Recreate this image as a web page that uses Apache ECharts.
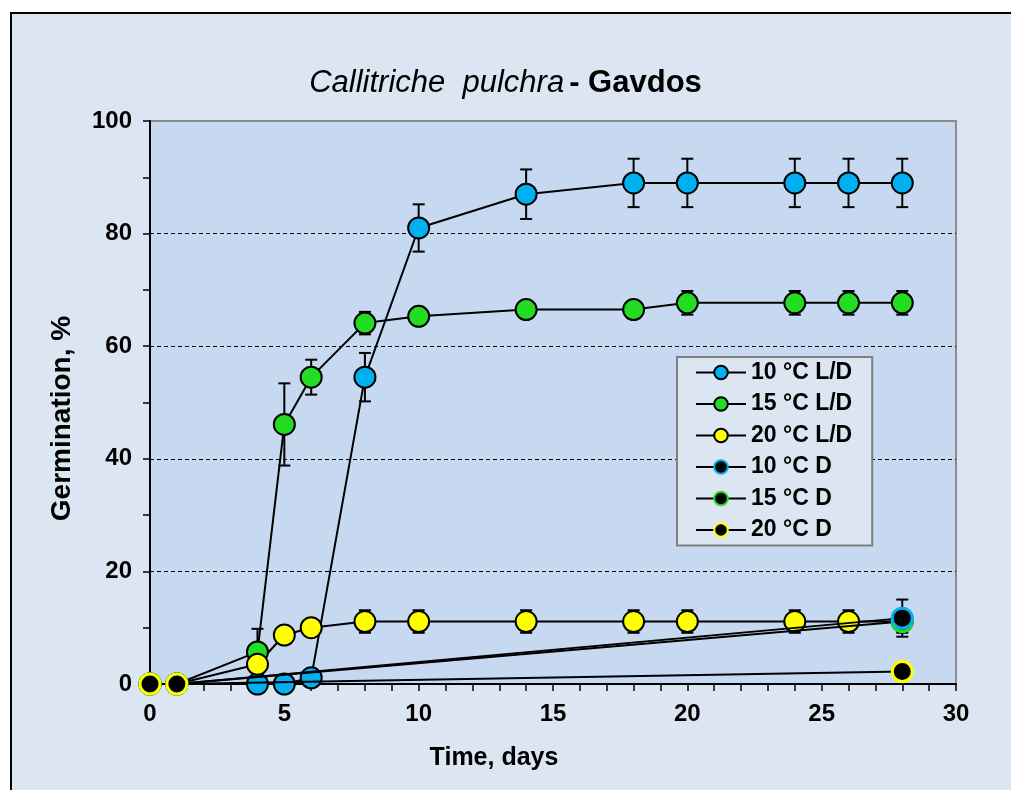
<!DOCTYPE html>
<html>
<head>
<meta charset="utf-8">
<script src="https://cdn.jsdelivr.net/npm/echarts@6/dist/echarts.min.js"></script>
<style>
  html, body { margin: 0; padding: 0; background: #ffffff; width: 1011px; height: 790px; overflow: hidden; }
  #frame { position: absolute; left: 10px; top: 12px; width: 1020px; height: 800px; border: 2px solid #000; background: #dce6f2; }
  #chart { position: absolute; left: 0; top: 0; width: 1011px; height: 790px; }
</style>
</head>
<body>
<div id="frame"></div>
<div id="chart"></div>
<script>
// ---- data ----
const days = [0, 1, 4, 5, 6, 8, 10, 14, 18, 20, 24, 26, 28];
const ld10 = [0, 0, 0, 0, 1.1, 54.5, 81, 87, 89, 89, 89, 89, 89];
const ld10Err = [0, 0, 0, 0, 0, 4.3, 4.2, 4.4, 4.3, 4.3, 4.3, 4.3, 4.3];
const ld15 = [0, 0, 5.7, 46.1, 54.5, 64.1, 65.3, 66.5, 66.5, 67.7, 67.7, 67.7, 67.7];
const ld15Err = [0, 0, 4.1, 7.3, 3.1, 2.0, 1.5, 1.5, 1.5, 2.1, 2.1, 2.1, 2.1];
const ld20 = [0, 0, 3.5, 8.7, 10, 11.1, 11.1, 11.1, 11.1, 11.1, 11.1, 11.1, 11.1];
const ld20Err = [0, 0, 0, 0, 0, 2, 2, 2, 2, 2, 2, 2, 2];
const dDays = [0, 1, 28];
const d10 = [0, 0, 11.7];
const d10Err = [0, 0, 3.3];
const d15 = [0, 0, 11.1];
const d20 = [0, 0, 2.2];
const seriesNames = ['10 °C L/D', '15 °C L/D', '20 °C L/D', '10 °C D', '15 °C D', '20 °C D'];
const xTicks = { min: 0, max: 30, step: 5 };
const yTicks = { min: 0, max: 100, step: 20 };

const BLUE = '#00b0f0', GREEN = '#22dd22', YELLOW = '#ffff00';
const FONT = 'Liberation Sans, Arial, sans-serif';

function pairs(xs, ys) { return xs.map((x, i) => [x, ys[i]]); }
function errData(xs, ys, es) {
  const out = [];
  xs.forEach((x, i) => { if (es[i] > 0) out.push([x, ys[i], es[i]]); });
  return out;
}
function errSeries(data) {
  return {
    type: 'custom', z: 1, silent: true, data: data,
    renderItem: function (params, api) {
      const x = api.value(0), y = api.value(1), e = api.value(2);
      const top = api.coord([x, y + e]);
      const bot = api.coord([x, y - e]);
      const cap = 6;
      const st = { stroke: '#000', lineWidth: 2 };
      return {
        type: 'group',
        children: [
          { type: 'line', shape: { x1: top[0], y1: top[1], x2: bot[0], y2: bot[1] }, style: st },
          { type: 'line', shape: { x1: top[0] - cap, y1: top[1], x2: top[0] + cap, y2: top[1] }, style: st },
          { type: 'line', shape: { x1: bot[0] - cap, y1: bot[1], x2: bot[0] + cap, y2: bot[1] }, style: st }
        ]
      };
    }
  };
}
function lineSeries(name, data, fill, border, bw, z) {
  return {
    name: name, type: 'line', data: data, z: z,
    symbol: 'circle', symbolSize: bw > 2 ? 20 : 21,
    lineStyle: { color: '#000', width: 2 },
    itemStyle: { color: fill, borderColor: border, borderWidth: bw },
    emphasis: { disabled: true }
  };
}

const chart = echarts.init(document.getElementById('chart'), null, { renderer: 'canvas' });
chart.setOption({
  animation: false,
  backgroundColor: 'transparent',
  title: {
    text: '{i|Callitriche  pulchra} {b|- Gavdos}',
    left: 'center', top: 63,
    textStyle: {
      rich: {
        i: { fontFamily: FONT, fontStyle: 'italic', fontWeight: 'normal', fontSize: 31, color: '#000' },
        b: { fontFamily: FONT, fontWeight: 'bold', fontSize: 31, color: '#000' }
      }
    }
  },
  grid: {
    left: 150, right: 55, top: 121, bottom: 106,
    show: true, backgroundColor: '#c6d9f1', borderColor: '#8c8c8c', borderWidth: 2
  },
  legend: {
    orient: 'vertical', left: 677, top: 357,
    data: seriesNames,
    backgroundColor: '#dce6f2', borderColor: '#7f7f7f', borderWidth: 2,
    padding: [4, 20, 4, 18], itemGap: 8.5, itemWidth: 50, itemHeight: 17,
    textStyle: { fontFamily: FONT, fontWeight: 'bold', fontSize: 23, color: '#000' }
  },
  xAxis: {
    type: 'value', min: xTicks.min, max: xTicks.max, interval: xTicks.step,
    name: 'Time, days', nameLocation: 'middle', nameGap: 62,
    nameTextStyle: { fontFamily: FONT, fontWeight: 'bold', fontSize: 25, color: '#000', padding: [0, 118, 0, 0] },
    axisLine: { show: true, lineStyle: { color: '#000', width: 2 } },
    axisTick: { show: true, inside: false, length: 7, lineStyle: { color: '#000', width: 1.5 } },
    minorTick: { show: true, splitNumber: 5, length: 7, lineStyle: { color: '#000', width: 1.5 } },
    axisLabel: { fontFamily: FONT, fontWeight: 'bold', fontSize: 24, color: '#000', margin: 18 },
    splitLine: { show: false }
  },
  yAxis: {
    type: 'value', min: yTicks.min, max: yTicks.max, interval: yTicks.step,
    name: 'Germination, %', nameLocation: 'middle', nameGap: 74, nameRotate: 90,
    nameTextStyle: { fontFamily: FONT, fontWeight: 'bold', fontSize: 28, color: '#000', padding: [0, 32, 0, 0] },
    axisLine: { show: true, lineStyle: { color: '#000', width: 2 } },
    axisTick: { show: true, inside: false, length: 7, lineStyle: { color: '#000', width: 1.5 } },
    minorTick: { show: true, splitNumber: 2, length: 7, lineStyle: { color: '#000', width: 1.5 } },
    axisLabel: { fontFamily: FONT, fontWeight: 'bold', fontSize: 24, color: '#000', margin: 18 },
    splitLine: { show: true, showMinLine: false, showMaxLine: false, lineStyle: { color: '#000', width: 1, type: [4, 3] } }
  },
  series: [
    errSeries(errData(days, ld10, ld10Err)),
    errSeries(errData(days, ld15, ld15Err)),
    errSeries(errData(days, ld20, ld20Err)),
    errSeries(errData(dDays, d10, d10Err)),
    lineSeries(seriesNames[0], pairs(days, ld10), BLUE, '#000', 2, 2),
    lineSeries(seriesNames[1], pairs(days, ld15), GREEN, '#000', 2, 2),
    lineSeries(seriesNames[2], pairs(days, ld20), YELLOW, '#000', 2, 2),
    lineSeries(seriesNames[3], pairs(dDays, d10), '#000', BLUE, 3, 4),
    lineSeries(seriesNames[4], pairs(dDays, d15), '#000', GREEN, 3, 3),
    lineSeries(seriesNames[5], pairs(dDays, d20), '#000', YELLOW, 3, 5)
  ]
});
</script>
</body>
</html>
